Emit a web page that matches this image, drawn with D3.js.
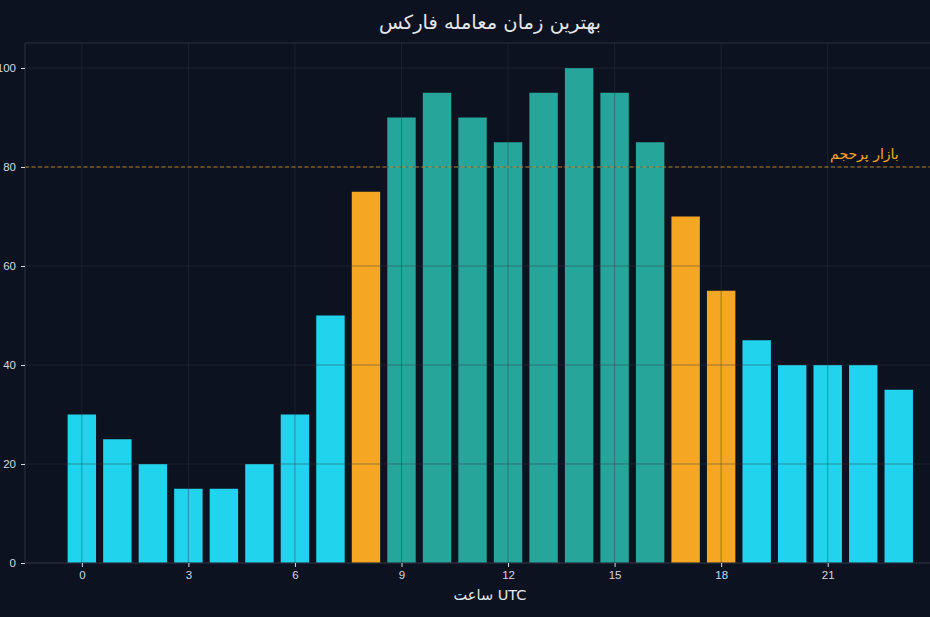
<!DOCTYPE html>
<html lang="fa">
<head>
  <meta charset="utf-8">
  <title>بهترین زمان معامله فارکس</title>
  <style>
  body { margin: 0; background: #0d1220; }
  svg { display: block; font-family: "DejaVu Sans", "Noto Sans", sans-serif; }
  .axis path { display: none; }
  .axis line { stroke: #d8dce4; }
  .axis text { fill: #d4d8e2; font-size: 11.5px; }
  </style>
  <script src="https://cdn.jsdelivr.net/npm/d3@7"></script>
</head>
<body>
<svg width="930" height="617"></svg>
<script>
// hourly activity score
var hours = d3.range(24);
var values = [30, 25, 20, 15, 15, 20, 30, 50, 75, 90, 95, 90, 85, 95, 100, 95, 85, 70, 55, 45, 40, 40, 40, 35];
var sessions = ["low","low","low","low","low","low","low","low","edge","peak","peak","peak","peak","peak","peak","peak","peak","edge","edge","low","low","low","low","low"];
var xTicks = [0, 3, 6, 9, 12, 15, 18, 21];
var yTicks = [0, 20, 40, 60, 80, 100];
var threshold = 80;

var colors = {low: "#22d3ee", edge: "#f5a623", peak: "#26a69a"};

var svg = d3.select("svg"),
    pLeft = 25, pRight = 930, pTop = 43, pBottom = 563;

var x = d3.scaleLinear().domain([-1.6, 23.88]).range([pLeft, pRight]);
var y = d3.scaleLinear().domain([0, 105.05]).range([pBottom, pTop]);
var barW = x(0.8) - x(0);

svg.append("rect")
    .attr("width", 930).attr("height", 617)
    .attr("fill", "#0d1220");

// bars
svg.append("g").selectAll("rect")
  .data(hours)
  .enter().append("rect")
    .attr("x", function(d) { return x(d) - barW / 2; })
    .attr("y", function(d) { return y(values[d]); })
    .attr("width", barW)
    .attr("height", function(d) { return y(0) - y(values[d]); })
    .attr("fill", function(d) { return colors[sessions[d]]; });

// grid over the bars
var grid = svg.append("g")
    .attr("stroke", "rgb(45,52,68)")
    .attr("stroke-opacity", 0.55)
    .attr("stroke-width", 0.8);
grid.selectAll(".gx").data(xTicks).enter().append("line")
    .attr("x1", function(d) { return x(d); }).attr("x2", function(d) { return x(d); })
    .attr("y1", pTop).attr("y2", pBottom);
grid.selectAll(".gy").data(yTicks).enter().append("line")
    .attr("x1", pLeft).attr("x2", pRight)
    .attr("y1", function(d) { return y(d); }).attr("y2", function(d) { return y(d); });

// threshold line
svg.append("line")
    .attr("x1", pLeft).attr("x2", pRight)
    .attr("y1", y(threshold)).attr("y2", y(threshold))
    .attr("stroke", "#f5a623")
    .attr("stroke-opacity", 0.7)
    .attr("stroke-width", 1)
    .attr("stroke-dasharray", "4,2.5");

svg.append("text")
    .attr("x", x(23))
    .attr("y", y(81.6))
    .attr("text-anchor", "end")
    .attr("fill", "#f5a623")
    .style("font-size", "14px")
    .text("بازار پرحجم");

// spines
svg.append("path")
    .attr("d", "M" + pLeft + "," + pBottom + "V" + pTop + "H" + pRight)
    .attr("fill", "none")
    .attr("stroke", "#2a3040");
svg.append("line")
    .attr("x1", pLeft).attr("x2", pRight)
    .attr("y1", pBottom).attr("y2", pBottom)
    .attr("stroke", "#2a3040");

svg.append("g")
    .attr("class", "axis")
    .attr("transform", "translate(0," + pBottom + ")")
    .call(d3.axisBottom(x).tickValues(xTicks).tickSize(4).tickPadding(4));

svg.append("g")
    .attr("class", "axis")
    .attr("transform", "translate(" + pLeft + ",0)")
    .call(d3.axisLeft(y).tickValues(yTicks).tickSize(4).tickPadding(5));

svg.append("text")
    .attr("x", 490)
    .attr("y", 29)
    .attr("text-anchor", "middle")
    .attr("fill", "#e5e7eb")
    .style("font-size", "19.5px")
    .text("بهترین زمان معامله فارکس");

svg.append("text")
    .attr("x", 490)
    .attr("y", 600)
    .attr("text-anchor", "middle")
    .attr("fill", "#e5e7eb")
    .style("font-size", "14.5px")
    .text("ساعت UTC");
</script>
</body>
</html>
